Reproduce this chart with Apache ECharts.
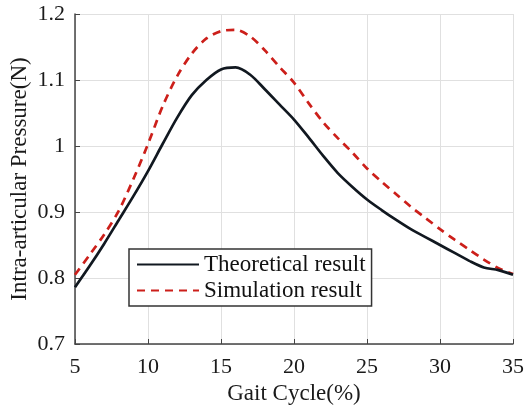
<!DOCTYPE html>
<html>
<head>
<meta charset="utf-8">
<script src="https://cdn.jsdelivr.net/npm/echarts@6/dist/echarts.min.js"></script>
<style>html,body{margin:0;padding:0;background:#fff}#c{width:525px;height:410px}</style>
</head>
<body>
<div id="c"></div>
<script>
const gaitCycle = [5,6,7,8,9,10,11,12,13,14,15,16,17,18,19,20,21,22,23,24,25,26,27,28,29,30,31,32,33,34,35];
const theoretical = [0.786,0.818,0.852,0.888,0.924,0.962,1.003,1.043,1.077,1.1,1.116,1.119,1.108,1.086,1.063,1.04,1.013,0.985,0.959,0.938,0.919,0.903,0.888,0.874,0.862,0.85,0.838,0.826,0.816,0.812,0.805];
const simulation = [0.805,0.835,0.866,0.902,0.95,1.003,1.06,1.106,1.14,1.163,1.174,1.176,1.166,1.145,1.12,1.096,1.065,1.036,1.012,0.99,0.966,0.946,0.927,0.908,0.891,0.874,0.858,0.843,0.828,0.815,0.806];
const seriesNames = ['Theoretical result','Simulation result'];
const xTicks = [5,10,15,20,25,30,35];
const yTicks = [0.7,0.8,0.9,1.0,1.1,1.2];

const font = 'Liberation Serif';
const chart = echarts.init(document.getElementById('c'));
chart.setOption({
  animation: false,
  textStyle: {fontFamily: font},
  grid: {left: 75, right: 12, top: 14, bottom: 66, show: false, containLabel: false, outerBoundsMode: 'none'},
  xAxis: {
    type: 'value', min: xTicks[0], max: xTicks[xTicks.length-1], interval: 5,
    name: 'Gait Cycle(%)', nameLocation: 'middle', nameGap: 38,
    nameTextStyle: {fontFamily: font, fontSize: 23, color: '#1a1a1a'},
    axisLine: {show: true, lineStyle: {color: '#444', width: 1.5}},
    axisTick: {show: true, inside: true, length: 5, lineStyle: {color: '#444'}},
    axisLabel: {fontFamily: font, fontSize: 22, color: '#1a1a1a', margin: 12},
    splitLine: {show: true, lineStyle: {color: '#e0e0e0', width: 1}}
  },
  yAxis: {
    type: 'value', min: yTicks[0], max: yTicks[yTicks.length-1], interval: 0.1,
    name: 'Intra-articular Pressure(N)', nameLocation: 'middle', nameGap: 44, nameMoveOverlap: false,
    nameTextStyle: {fontFamily: font, fontSize: 23, color: '#1a1a1a'},
    axisLine: {show: true, lineStyle: {color: '#444', width: 1.5}},
    axisTick: {show: true, inside: true, length: 5, lineStyle: {color: '#444'}},
    axisLabel: {fontFamily: font, fontSize: 22, color: '#1a1a1a', margin: 10,
      formatter: v => (Math.abs(v-1) < 1e-9 ? '1' : (+v.toFixed(1)).toString())},
    splitLine: {show: true, lineStyle: {color: '#e0e0e0', width: 1}}
  },
  legend: {
    orient: 'vertical', left: 129, top: 249,
    data: seriesNames,
    itemWidth: 62, itemHeight: 14, itemGap: 3,
    padding: [4, 6, 4, 7],
    borderColor: '#333', borderWidth: 1.5, backgroundColor: '#fff',
    itemStyle: {opacity: 0},
    textStyle: {fontFamily: font, fontSize: 23, color: '#111'}
  },
  series: [
    {name: seriesNames[0], type: 'line', symbol: 'none', smooth: 0.3,
     data: gaitCycle.map((x,i)=>[x, theoretical[i]]),
     lineStyle: {color: '#111820', width: 2.7}, itemStyle: {color: '#111820'}, z: 3},
    {name: seriesNames[1], type: 'line', symbol: 'none', smooth: 0.3,
     data: gaitCycle.map((x,i)=>[x, simulation[i]]),
     lineStyle: {color: '#cc1f1a', width: 2.7, type: [8, 6]}, itemStyle: {color: '#cc1f1a'}, z: 2}
  ]
});
</script>
</body>
</html>
